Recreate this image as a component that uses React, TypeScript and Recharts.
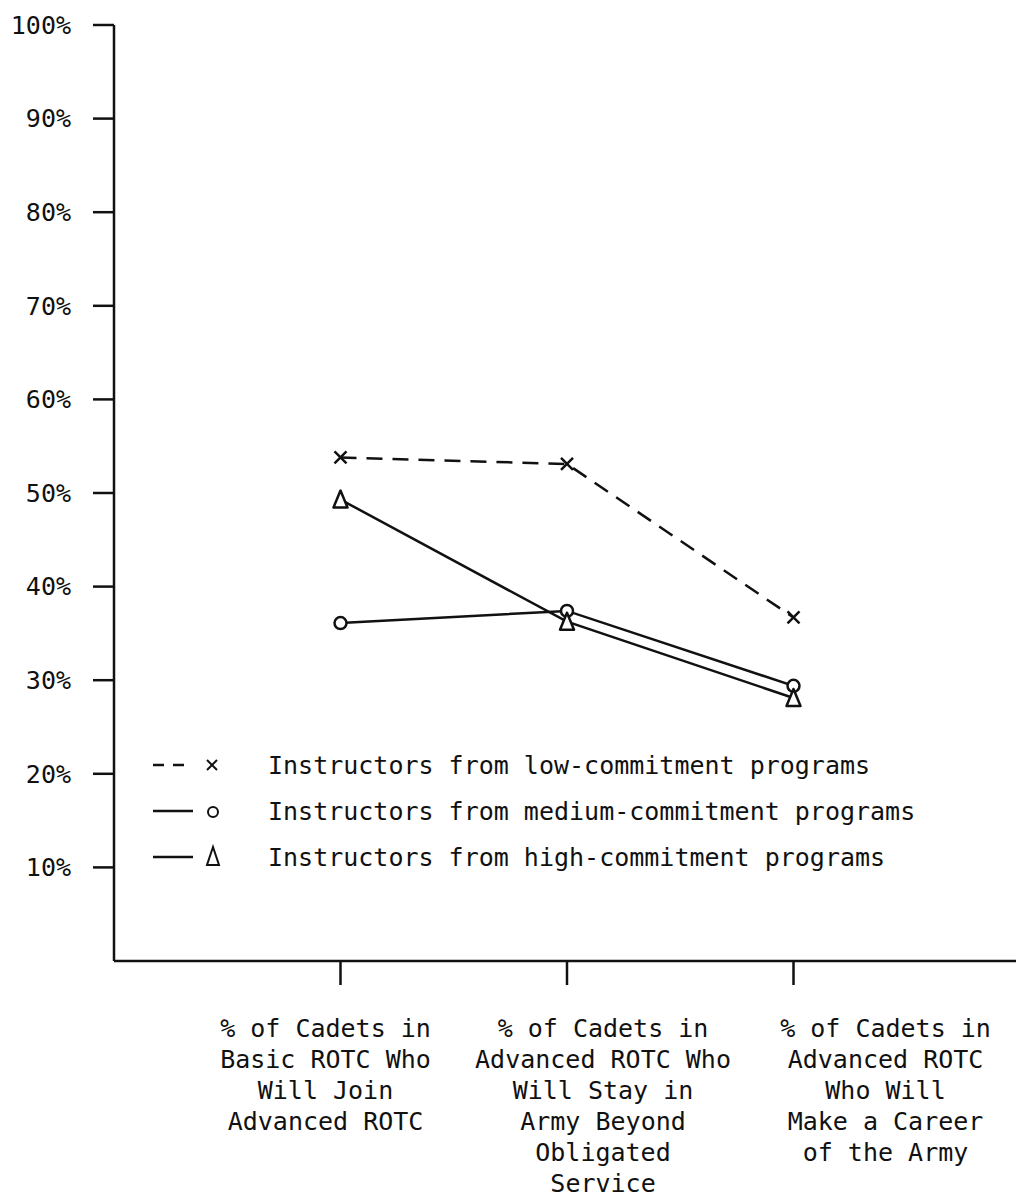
import React from "react";
import { LineChart, Line, XAxis, YAxis, Legend } from "recharts";

const categories = [
  ["% of Cadets in", "Basic ROTC Who", "Will Join", "Advanced ROTC"],
  ["% of Cadets in", "Advanced ROTC Who", "Will Stay in", "Army Beyond", "Obligated", "Service"],
  ["% of Cadets in", "Advanced ROTC", "Who Will", "Make a Career", "of the Army"],
];

const lowCommitment = [53.8, 53.1, 36.7];
const mediumCommitment = [36.1, 37.4, 29.4];
const highCommitment = [49.3, 36.25, 28.1];

const yTicks = [10, 20, 30, 40, 50, 60, 70, 80, 90, 100];

const seriesOrder = ["low", "medium", "high"];
const seriesNames = {
  low: "Instructors from low-commitment programs",
  medium: "Instructors from medium-commitment programs",
  high: "Instructors from high-commitment programs",
};

const data = categories.map((_, i) => ({
  pos: i + 1,
  low: lowCommitment[i],
  medium: mediumCommitment[i],
  high: highCommitment[i],
}));

const FONT = "'DejaVu Sans Mono', monospace";
const INK = "#111";

// typewritten labels sit a bit off their ticks in the original
const labelShift = [-15, 36, 92];

function CategoryTick(props: any) {
  const { x, y, payload } = props;
  const idx = Math.round(payload.value) - 1;
  const lines = categories[idx] || [];
  return (
    <g transform={`translate(${x + (labelShift[idx] || 0)},${y})`}>
      {lines.map((ln, k) => (
        <text
          key={k}
          x={0}
          y={50 + k * 31}
          textAnchor="middle"
          fontFamily={FONT}
          fontSize={25}
          fill={INK}
        >
          {ln}
        </text>
      ))}
    </g>
  );
}

function CrossDot(props: any) {
  const { cx, cy } = props;
  if (cx == null || cy == null) return null;
  const s = 6;
  return (
    <g key={`x-${props.index}`}>
      <line x1={cx - s} y1={cy - s} x2={cx + s} y2={cy + s} stroke={INK} strokeWidth={2.5} />
      <line x1={cx - s} y1={cy + s} x2={cx + s} y2={cy - s} stroke={INK} strokeWidth={2.5} />
    </g>
  );
}

function CircleDot(props: any) {
  const { cx, cy } = props;
  if (cx == null || cy == null) return null;
  return <circle key={`o-${props.index}`} cx={cx} cy={cy} r={6} fill="#fff" stroke={INK} strokeWidth={2.5} />;
}

function TriangleDot(props: any) {
  const { cx, cy } = props;
  if (cx == null || cy == null) return null;
  const w = 7;
  const h = 16;
  return (
    <polygon
      key={`t-${props.index}`}
      points={`${cx},${cy - h / 2 - 1} ${cx - w},${cy + h / 2} ${cx + w},${cy + h / 2}`}
      fill="#fff"
      stroke={INK}
      strokeWidth={2.5}
      strokeLinejoin="round"
    />
  );
}

function LegendMarker({ kind }: { kind: string }) {
  if (kind === "low")
    return (
      <g>
        <line x1={57} y1={8} x2={67} y2={18} stroke={INK} strokeWidth={2} />
        <line x1={57} y1={18} x2={67} y2={8} stroke={INK} strokeWidth={2} />
      </g>
    );
  if (kind === "medium") return <circle cx={63} cy={14} r={5} fill="none" stroke={INK} strokeWidth={2} />;
  return <polygon points="63,3 57,21 69,21" fill="none" stroke={INK} strokeWidth={2} />;
}

function renderLegend(props: any) {
  const { payload = [] } = props;
  const rows = [...payload].sort(
    (a: any, b: any) => seriesOrder.indexOf(a.dataKey) - seriesOrder.indexOf(b.dataKey)
  );
  return (
    <div style={{ fontFamily: FONT, fontSize: 25, color: INK }}>
      {rows.map((entry: any) => {
        const key = entry.dataKey as string;
        const dashed = key === "low";
        return (
          <div key={key} style={{ display: "flex", alignItems: "center", height: 46 }}>
            <svg width={118} height={26} style={{ flex: "none" }}>
              <line
                x1={3}
                y1={13}
                x2={43}
                y2={13}
                stroke={INK}
                strokeWidth={2.5}
                strokeDasharray={dashed ? "11 9" : undefined}
              />
              <LegendMarker kind={key} />
            </svg>
            <span style={{ whiteSpace: "pre" }}>{entry.value}</span>
          </div>
        );
      })}
    </div>
  );
}

export default function App() {
  return (
    <div
      style={{
        position: "absolute",
        left: 0,
        top: 0,
        width: 1016,
        height: 1198,
        overflow: "hidden",
        background: "#fff",
      }}
    >
      <LineChart width={1020} height={1198} data={data} margin={{ top: 25, right: 0, left: 0, bottom: 0 }}>
        <XAxis
          dataKey="pos"
          type="number"
          domain={[0, 4]}
          ticks={[1, 2, 3]}
          height={237}
          tickSize={24}
          tick={CategoryTick}
          axisLine={{ stroke: INK, strokeWidth: 2.5 }}
          tickLine={{ stroke: INK, strokeWidth: 2.5 }}
        />
        <YAxis
          type="number"
          domain={[0, 100]}
          ticks={yTicks}
          width={114}
          tickSize={21}
          tickMargin={22}
          tickFormatter={(v: number) => `${v}%`}
          tick={{ fill: INK, fontSize: 25, fontFamily: FONT }}
          axisLine={{ stroke: INK, strokeWidth: 2.5 }}
          tickLine={{ stroke: INK, strokeWidth: 2.5 }}
        />
        <Legend
          layout="vertical"
          align="center"
          verticalAlign="middle"
          itemSorter={null as any}
          content={renderLegend}
          wrapperStyle={{ left: 150, top: 742, width: 820, height: 140 }}
        />
        <Line
          type="linear"
          dataKey="low"
          name={seriesNames.low}
          stroke={INK}
          strokeWidth={2.5}
          strokeDasharray="16 10"
          dot={CrossDot}
          activeDot={false}
          isAnimationActive={false}
        />
        <Line
          type="linear"
          dataKey="medium"
          name={seriesNames.medium}
          stroke={INK}
          strokeWidth={2.5}
          dot={CircleDot}
          activeDot={false}
          isAnimationActive={false}
        />
        <Line
          type="linear"
          dataKey="high"
          name={seriesNames.high}
          stroke={INK}
          strokeWidth={2.5}
          dot={TriangleDot}
          activeDot={false}
          isAnimationActive={false}
        />
      </LineChart>
    </div>
  );
}
